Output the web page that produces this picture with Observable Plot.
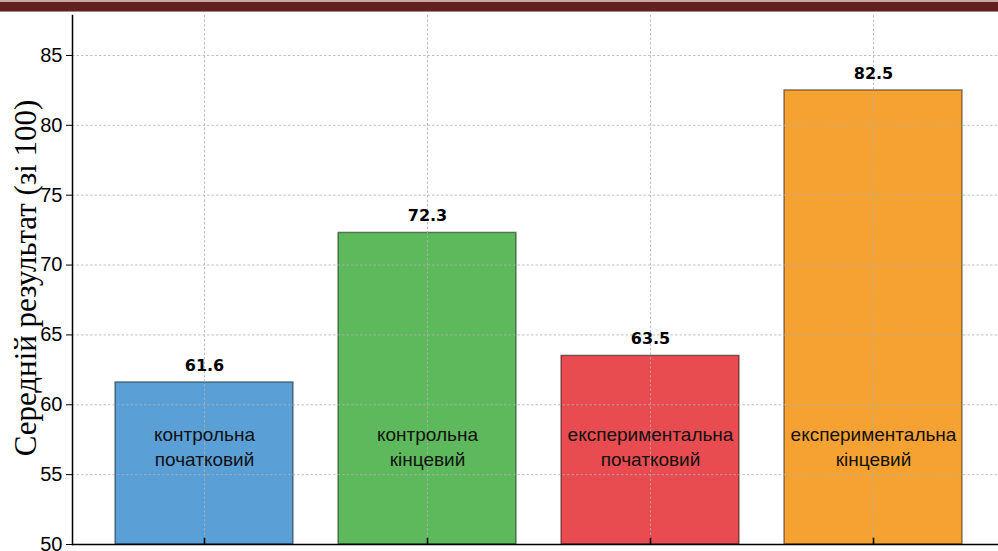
<!DOCTYPE html>
<html><head><meta charset="utf-8">
<script src="https://cdn.jsdelivr.net/npm/d3@7"></script>
<script src="https://cdn.jsdelivr.net/npm/@observablehq/plot@0.6"></script>
<style>
html,body{margin:0;padding:0;background:#fff;overflow:hidden;width:998px;height:551px;}
#chart{position:absolute;left:0;top:0;}
#band{position:absolute;left:0;top:0;width:998px;height:12px;background:#62201f;border-top:2px solid #c9a9a6;border-bottom:1px solid #9a8a88;box-sizing:border-box;}
</style></head><body>
<div id="chart"></div>
<div id="band"></div>
<script>
const groups = ["контрольна\nпочатковий", "контрольна\nкінцевий", "експериментальна\nпочатковий", "експериментальна\nкінцевий"];
const values = [61.6, 72.3, 63.5, 82.5];
const colors = ["#5a9fd5", "#5db95c", "#e84b50", "#f6a232"];
const yTicks = [50, 55, 60, 65, 70, 75, 80, 85];
const yLabel = "Середній результат (зі 100)";
const labelLevel = 57.1;

const data = groups.map((g, i) => ({group: g, value: values[i], color: colors[i]}));

const chart = Plot.plot({
  width: 998, height: 551,
  marginTop: 15, marginBottom: 7, marginLeft: 72, marginRight: 0,
  style: {background: "transparent", overflow: "visible"},
  x: {type: "band", domain: groups, range: [72, 1005], paddingInner: 0.2, paddingOuter: 0.19, axis: null},
  y: {domain: [50, 87.86], axis: null},
  marks: [
    Plot.barY(data, {x: "group", y1: 50, y2: "value", fill: "color", stroke: "#000", strokeOpacity: 0.45, strokeWidth: 1.5}),
    Plot.gridY(yTicks, {stroke: "#b0b0b0", strokeOpacity: 0.8, strokeDasharray: "2.5,2", strokeWidth: 1}),
    Plot.gridX(groups, {stroke: "#b0b0b0", strokeOpacity: 0.8, strokeDasharray: "2.5,2", strokeWidth: 1}),
    Plot.axisY(yTicks, {tickSize: 6, tickPadding: 4, fontSize: 20, fontFamily: "Liberation Sans", label: null, tickFormat: d => d}),
    Plot.frame({anchor: "left", stroke: "#000", strokeWidth: 1.5}),
    Plot.frame({anchor: "bottom", stroke: "#000", strokeWidth: 1.5}),
    Plot.ruleX(groups, {y1: 50, y2: 50.45, stroke: "#000", strokeWidth: 1.5}),
    Plot.text(data, {x: "group", y: "value", text: d => d.value.toFixed(1), dy: -17, fontWeight: "bold", fontSize: 16, fontFamily: "DejaVu Sans", fill: "#000"}),
    Plot.text(data, {x: "group", y: () => labelLevel, text: "group", fontSize: 19, lineHeight: 1.35, fontFamily: "Liberation Sans", fill: "#111"}),
    Plot.text([yLabel], {frameAnchor: "left", textAnchor: "middle", rotate: -90, dx: -46, dy: -2, fontFamily: "Liberation Serif", fontSize: 31, fill: "#000"})
  ]
});
document.getElementById("chart").appendChild(chart);
</script>
</body></html>
